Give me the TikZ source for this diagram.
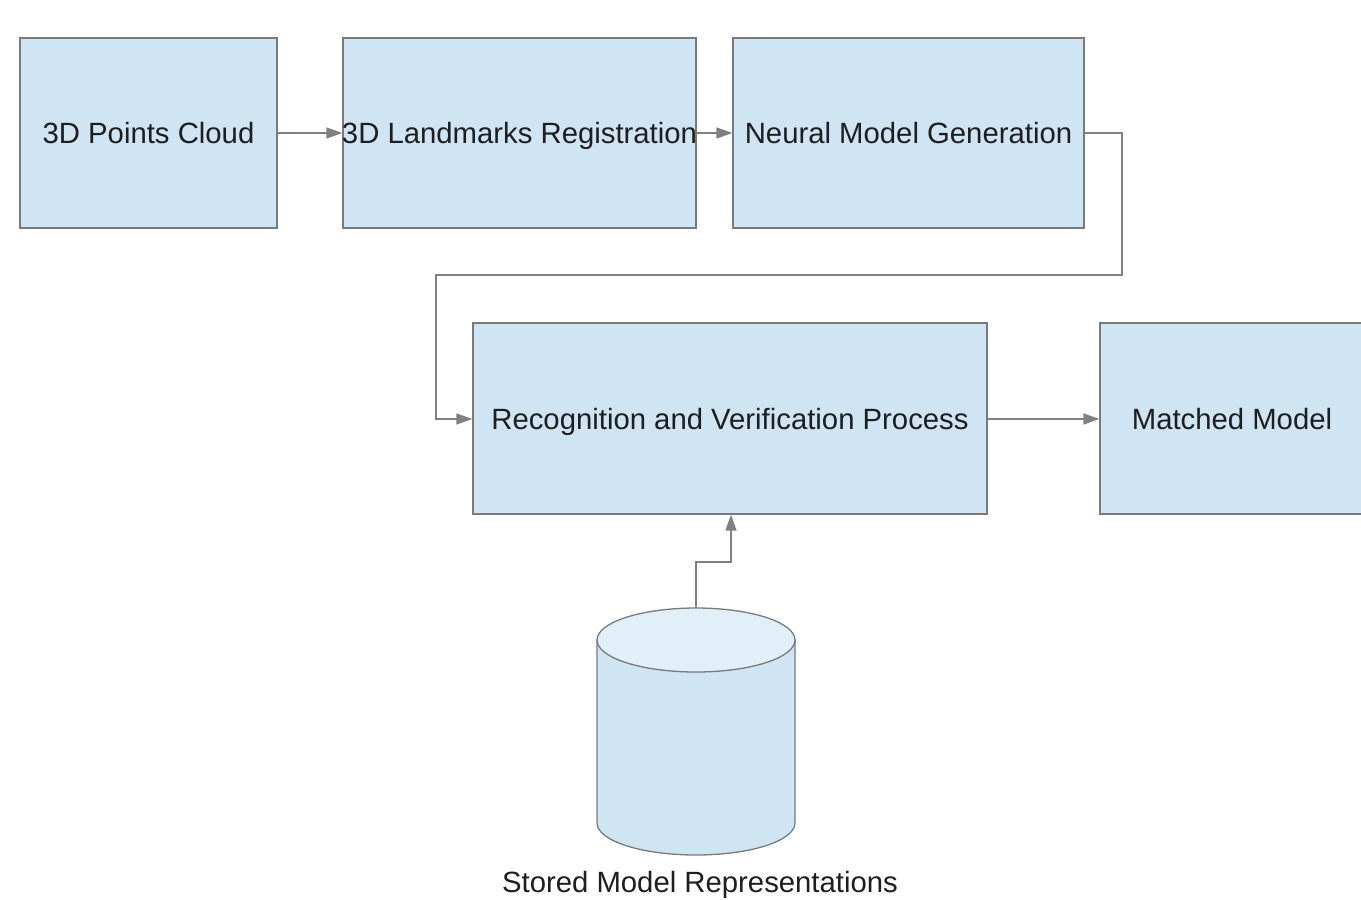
\documentclass[tikz,border=0pt]{standalone}
\usepackage{fontspec}
\setmainfont{Liberation Sans}
\usetikzlibrary{arrows.meta}
\definecolor{boxfill}{HTML}{CFE5F3}
\definecolor{topfill}{HTML}{E1EFF9}
\definecolor{edge}{HTML}{7A7A7A}
\definecolor{conn}{HTML}{808080}
\definecolor{txt}{HTML}{1E1E1E}
\begin{document}
\begin{tikzpicture}[x=1pt,y=-1pt,
  procbox/.style={draw=edge,line width=1.3pt,fill=boxfill,inner sep=0pt},
  lbl/.style={text=txt,font=\fontsize{29.3}{33}\selectfont,inner sep=0pt,anchor=base},
  arr/.style={draw=conn,line width=1.5pt,-{Triangle[length=16pt,width=11pt]}},
  ln/.style={draw=conn,line width=1.5pt}]
\clip (0,0) rectangle (1361,900);
\fill[white] (0,0) rectangle (1361,900);
% boxes
\node[procbox,minimum width=257pt,minimum height=190pt] (A) at (148.5,133) {};
\node[procbox,minimum width=353pt,minimum height=190pt] (B) at (519.5,133) {};
\node[procbox,minimum width=351pt,minimum height=190pt] (C) at (908.5,133) {};
\node[procbox,minimum width=514pt,minimum height=191pt] (D) at (730,418.5) {};
\node[procbox,minimum width=264pt,minimum height=191pt] (E) at (1232,418.5) {};
% labels
\node[lbl] (tA) at ([yshift=-10.5pt]A.center) {3D Points Cloud};
\node[lbl] (tB) at ([yshift=-10.5pt]B.center) {3D Landmarks Registration};
\node[lbl] (tC) at ([yshift=-10.5pt]C.center) {Neural Model Generation};
\node[lbl] (tD) at ([yshift=-10.5pt]D.center) {Recognition and Verification Process};
\node[lbl] (tE) at ([yshift=-10.5pt]E.center) {Matched Model};
% cylinder
\path[draw=edge,line width=1.3pt,fill=boxfill] (597,640) -- (597,823) arc[start angle=180,end angle=360,x radius=99pt,y radius=32pt] -- (795,640) -- cycle;
\path[draw=edge,line width=1.3pt,fill=topfill] (696,640) ellipse[x radius=99pt,y radius=32pt];
\coordinate (dbtop) at (696,608);
\node[text=txt,font=\fontsize{29.3}{33}\selectfont,inner sep=0pt,anchor=south] (tS) at (700,899) {Stored Model Representations};
% connectors
\draw[arr] (A.east) -- (B.west);
\draw[arr] (B.east) -- (C.west);
\draw[arr] (C.east) -- (1122,133) -- (1122,275) -- (436,275) -- (436,419) -- (D.west |- 0,419);
\draw[arr] (D.east |- 0,419) -- (E.west |- 0,419);
\draw[arr] (dbtop) -- (696,562) -- (731,562) -- (D.south -| 731,0);
\end{tikzpicture}
\end{document}
